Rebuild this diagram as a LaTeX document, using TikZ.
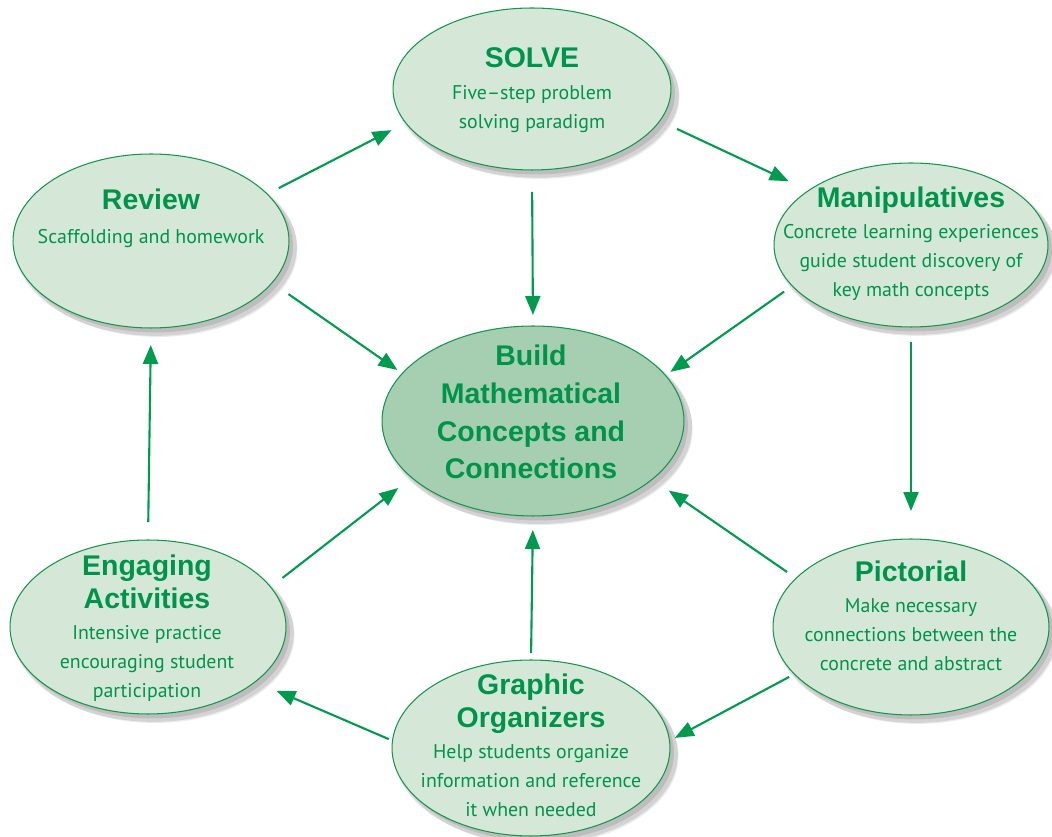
\documentclass[tikz,border=0pt]{standalone}
\usepackage{fontspec}
\setmainfont{PT Sans}
\newfontfamily\hdfont{Liberation Sans}
\usetikzlibrary{shapes.geometric,shadows,arrows.meta}
\definecolor{gtext}{RGB}{0,147,74}
\definecolor{gline}{RGB}{20,150,75}
\definecolor{garrow}{RGB}{0,155,78}
\definecolor{lfill}{RGB}{213,232,216}
\definecolor{cfill}{RGB}{165,207,176}
\newcommand\hd{\hdfont\bfseries\fontsize{16.2}{18}\selectfont}
\tikzset{
  softshadow/.style={
    drop shadow={shadow xshift=0.10cm,shadow yshift=-0.12cm,opacity=0.10,fill=black,shadow scale=1.02},
    drop shadow={shadow xshift=0.14cm,shadow yshift=-0.16cm,opacity=0.08,fill=black,shadow scale=1.01},
    drop shadow={shadow xshift=0.08cm,shadow yshift=-0.09cm,opacity=0.10,fill=black}},
  bubble/.style={ellipse,draw=gline,line width=0.6pt,fill=lfill,inner sep=0pt,outer sep=0pt,softshadow},
  bubbletext/.style={align=center,text=gtext,inner sep=0pt,font=\fontsize{11.3}{16.5}\selectfont},
  arr/.style={draw=garrow,line width=1.2pt,-{Triangle[length=0.38cm,width=0.30cm]}}
}
\begin{document}
\begin{tikzpicture}[x=0.02cm,y=-0.02cm]
\useasboundingbox (0,0) rectangle (1052,837);
% ellipses
\node[bubble,minimum width=5.56cm,minimum height=3.24cm] (solve) at (532,89) {};
\node[bubble,minimum width=5.52cm,minimum height=3.48cm] (rev) at (151,241) {};
\node[bubble,minimum width=5.48cm,minimum height=3.28cm] (manip) at (911,245) {};
\node[bubble,fill=cfill,minimum width=6.04cm,minimum height=3.80cm] (center) at (533,421) {};
\node[bubble,minimum width=5.52cm,minimum height=3.48cm] (eng) at (148,627) {};
\node[bubble,minimum width=5.52cm,minimum height=3.52cm] (pict) at (911,627) {};
\node[bubble,minimum width=5.56cm,minimum height=3.52cm] (graph) at (531,748) {};
% texts
\node[bubbletext] (solvet) at (532,90) {{\hd SOLVE}\\[1.5pt]Five–step problem\\solving paradigm};
\node[bubbletext] (revt) at (151,218) {{\hd Review}\\[3pt]Scaffolding and homework};
\node[bubbletext] (manipt) at (911,244) {{\hd Manipulatives}\\[1pt]Concrete learning experiences\\guide student discovery of\\key math concepts};
\node[bubbletext,font=\hdfont\bfseries\fontsize{16.2}{21.5}\selectfont] (centert) at (531,412) {Build\\Mathematical\\Concepts and\\Connections};
\node[bubbletext] (engt) at (147,628) {{\hd Engaging}\\[2.8pt]{\hd Activities}\\[1pt]Intensive practice\\encouraging student\\participation};
\node[bubbletext] (pictt) at (911,616) {{\hd Pictorial}\\[1pt]Make necessary\\connections between the\\concrete and abstract};
\node[bubbletext] (grapht) at (531,745) {{\hd Graphic}\\[2.5pt]{\hd Organizers}\\[1pt]Help students organize\\information and reference\\it when needed};
% arrows
\draw[arr,shorten <=0.26cm,shorten >=0.32cm] (rev.22) -- (solve.195);
\draw[arr,shorten <=0.38cm,shorten >=0.44cm] (solve.346) -- (manip.152);
\draw[arr,shorten <=0.44cm,shorten >=0.22cm] (solve.270) -- (center.90);
\draw[arr,shorten <=0.40cm,shorten >=0.12cm] (rev.341) -- (center.160);
\draw[arr,shorten <=0.20cm,shorten >=0.12cm] (manip.199) -- (center.19);
\draw[arr,shorten <=0.30cm,shorten >=0.56cm] (manip.270) -- (pict.90);
\draw[arr,shorten <=0.22cm,shorten >=0.40cm] (pict.157) -- (center.334);
\draw[arr,shorten <=0.14cm,shorten >=0.28cm] (graph.90) -- (center.270);
\draw[arr,shorten <=0.30cm,shorten >=0.34cm] (eng.18) -- (center.205);
\draw[arr,shorten <=0.36cm,shorten >=0.34cm] (eng.90) -- (rev.270);
\draw[arr,shorten <=0.08cm,shorten >=0.46cm] (graph.177) -- (eng.333);
\draw[arr,shorten <=0.12cm,shorten >=0.12cm] (pict.202) -- (graph.3);
\end{tikzpicture}
\end{document}
